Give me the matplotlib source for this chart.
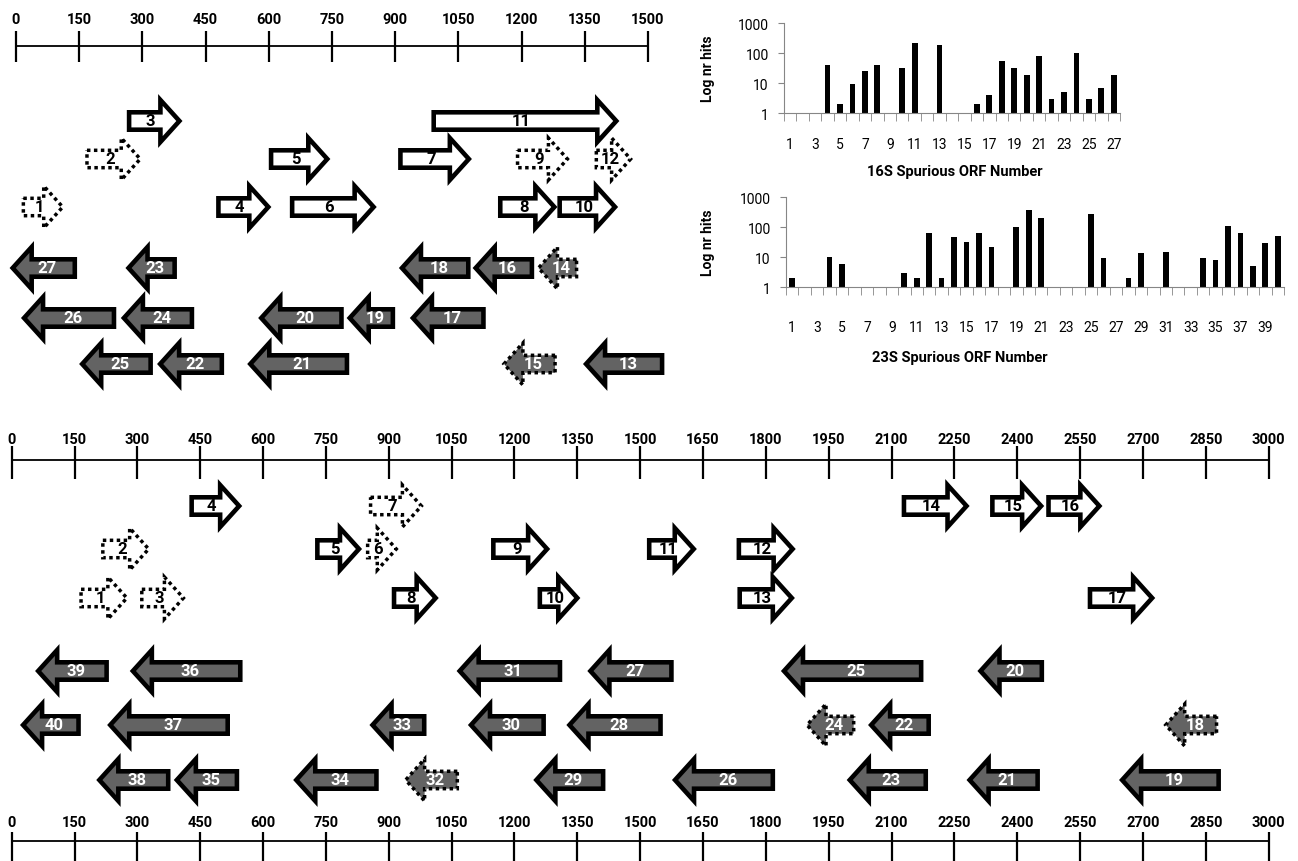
import matplotlib
matplotlib.use("Agg")
import matplotlib.pyplot as plt
from matplotlib.patches import Polygon
from matplotlib.ticker import NullLocator
import numpy as np

plt.rcParams['font.family'] = ['Roboto', 'DejaVu Sans']

# %% data: spurious ORFs on the 16S rRNA (nt), lane 0-2 = forward, 3-5 = reverse
s16_orf = list(range(1, 28))
s16_left = [12, 163, 263, 475, 600, 650, 907, 1144, 1185, 1285, 986, 1372,
            1346, 1233, 1151, 1084, 935, 909, 785, 575, 549, 335, 260, 249,
            150, 12, -15]
s16_right = [118, 302, 395, 606, 746, 856, 1082, 1285, 1316, 1429, 1432, 1466,
             1539, 1336, 1285, 1230, 1115, 1079, 900, 778, 791, 494, 382, 423,
             325, 238, 145]
s16_lane = [2, 1, 0, 2, 1, 2, 1, 2, 1, 2, 0, 1,
            5, 3, 5, 3, 4, 3, 4, 4, 5, 5, 3, 4, 5, 4, 3]
s16_strand = ['+'] * 12 + ['-'] * 15
s16_dotted = [1, 2, 9, 12, 14, 15]

# spurious ORFs on the 23S rRNA (nt)
s23_orf = list(range(1, 41))
s23_left = [160, 212, 305, 424, 724, 844, 851, 907, 1144, 1255, 1516, 1730,
            1732, 2124, 2335, 2469, 2568,
            2747, 2643, 2305, 2279, 2044, 1993, 1891, 1836, 1576, 1374, 1324,
            1245, 1089, 1062, 933, 854, 672, 387, 282, 228, 202, 56, 20]
s23_right = [282, 334, 417, 550, 836, 925, 985, 1019, 1285, 1357, 1635, 1871,
             1869, 2286, 2464, 2603, 2729,
             2881, 2886, 2464, 2454, 2194, 2187, 2015, 2176, 1822, 1580, 1554,
             1417, 1275, 1314, 1069, 990, 876, 543, 551, 521, 379, 232, 165]
s23_lane = [2, 1, 2, 0, 1, 1, 0, 2, 1, 2, 1, 1, 2, 0, 0, 0, 2,
            4, 5, 3, 5, 4, 5, 4, 3, 5, 3, 4, 5, 4, 3, 5, 4, 5, 5, 3, 4, 5, 3, 4]
s23_strand = ['+'] * 17 + ['-'] * 23
s23_dotted = [1, 2, 3, 6, 7, 18, 24, 32]

hits_16s = [0, 0, 0, 40, 2, 9, 25, 40, 0, 31, 210, 0, 190, 0, 0, 2, 4, 55,
            32, 19, 79, 3, 5, 97, 3, 7, 19]
hits_23s = [2, 0, 0, 10, 6, 0, 0, 0, 0, 3, 2, 65, 2, 47, 32, 65, 22, 0, 100,
            380, 200, 0, 0, 0, 280, 9, 0, 2, 14, 0, 15, 0, 0, 9, 8, 106, 62,
            5, 30, 49]

# %% layout (pixels, origin top-left)
W, H = 1298, 862
fig = plt.figure(figsize=(W / 100, H / 100), dpi=100)


def px_axes(x0, y0, x1, y1):
    return fig.add_axes([x0 / W, 1 - y1 / H, (x1 - x0) / W, (y1 - y0) / H])


def map_axes(box, zero_px, ppn):
    x0, y0, x1, y1 = box
    ax = px_axes(*box)
    ax.set_xlim((x0 - zero_px) / ppn, (x1 - zero_px) / ppn)
    ax.set_ylim(y1, y0)
    ax.axis('off')
    return ax


def ruler(ax, length, y_line, up, down, y_text):
    ax.plot([0, length], [y_line, y_line], color='black', lw=1.3,
            solid_capstyle='butt')
    for v in range(0, length + 1, 150):
        ax.plot([v, v], [y_line - up, y_line + down], color='black', lw=1.6,
                solid_capstyle='butt')
        ax.text(v, y_text, str(v), ha='center', va='center', fontsize=10.5,
                fontweight='bold')


def orf_arrow(ax, num, left, right, y, strand, dotted, ppn):
    hl = 19 / ppn
    bh, hh = 8.7, 21
    if strand == '+':
        tail, tip = left + 2.3 / ppn, right - 3 / ppn
        base = tip - hl
        cx = (left + right) / 2 - 4 / ppn
        fill, tcol = 'white', 'black'
    else:
        tail, tip = right - 2.3 / ppn, left + 3 / ppn
        base = tip + hl
        cx = (left + right) / 2 + 4 / ppn
        fill, tcol = '#636363', 'white'
    pts = [(tail, y - bh), (base, y - bh), (base, y - hh), (tip, y),
           (base, y + hh), (base, y + bh), (tail, y + bh)]
    if dotted:
        poly = Polygon(pts, closed=True, fc=fill, ec='black', lw=2.5,
                       ls=(0, (1, 1)), joinstyle='miter')
    else:
        poly = Polygon(pts, closed=True, fc=fill, ec='black', lw=3.3,
                       joinstyle='miter')
    ax.add_patch(poly)
    ax.text(cx, y, str(num), ha='center', va='center', fontsize=12,
            fontweight='bold', color=tcol)


def draw_map(ax, nums, lefts, rights, lanes, strands, dotted, lane_y, ppn):
    for n, l, r, ln, s in zip(nums, lefts, rights, lanes, strands):
        orf_arrow(ax, n, l, r, lane_y[ln], s, n in dotted, ppn)


# 16S map (top left)
ppn16 = 0.4213
ax16 = map_axes((0, 0, 690, 400), 16, ppn16)
ruler(ax16, 1500, 47, 15, 16, 20)
draw_map(ax16, s16_orf, s16_left, s16_right, s16_lane, s16_strand, s16_dotted,
         [122, 160, 208, 269, 319, 365], ppn16)

# 23S map (bottom)
ppn23 = 0.4190
ax23 = map_axes((0, 400, W, H), 11.7, ppn23)
ruler(ax23, 3000, 461, 14, 19, 440)
ruler(ax23, 3000, 842, 9, 30, 823)
draw_map(ax23, s23_orf, s23_left, s23_right, s23_lane, s23_strand, s23_dotted,
         [507, 550, 599, 672, 726, 781], ppn23)


# %% hit bar charts
def bar_panel(box, hits, pad_pt):
    ax = px_axes(*box)
    n = len(hits)
    x = np.arange(1, n + 1)
    h = np.array(hits, dtype=float)
    m = h > 0
    ax.bar(x[m], h[m] - 1, bottom=1, width=0.46, color='black')
    ax.set_yscale('log')
    ax.set_ylim(1, 1000)
    ax.set_xlim(0.5, n + 0.5)
    ax.set_yticks([1, 10, 100, 1000])
    ax.set_yticklabels(['1', '10', '100', '1000'])
    ax.yaxis.set_minor_locator(NullLocator())
    ax.set_xticks(x[::2])
    ax.set_xticklabels([str(v) for v in x[::2]])
    ax.set_xticks(np.arange(0.5, n + 1), minor=True)
    ax.tick_params(axis='x', which='major', length=0, pad=pad_pt,
                   labelsize=10)
    ax.tick_params(axis='x', which='minor', length=6, color='#868686',
                   direction='out')
    ax.tick_params(axis='y', length=4, color='#868686', pad=7, labelsize=10)
    for s in ['top', 'right']:
        ax.spines[s].set_visible(False)
    for s in ['left', 'bottom']:
        ax.spines[s].set_color('#868686')
    return ax


bar_panel((784, 24, 1120, 114), hits_16s, 17.5)
bar_panel((786, 198, 1284, 288), hits_23s, 23.5)

fig.text(708 / W, 1 - 69 / H, 'Log nr hits', rotation=90, ha='center',
         va='center', fontsize=10, fontweight='bold')
fig.text(708 / W, 1 - 243 / H, 'Log nr hits', rotation=90, ha='center',
         va='center', fontsize=10, fontweight='bold')
fig.text(955 / W, 1 - 172 / H, '16S Spurious ORF Number', ha='center',
         va='center', fontsize=10.5, fontweight='bold')
fig.text(960 / W, 1 - 358 / H, '23S Spurious ORF Number', ha='center',
         va='center', fontsize=10.5, fontweight='bold')

fig.savefig('out.png', dpi=100)
